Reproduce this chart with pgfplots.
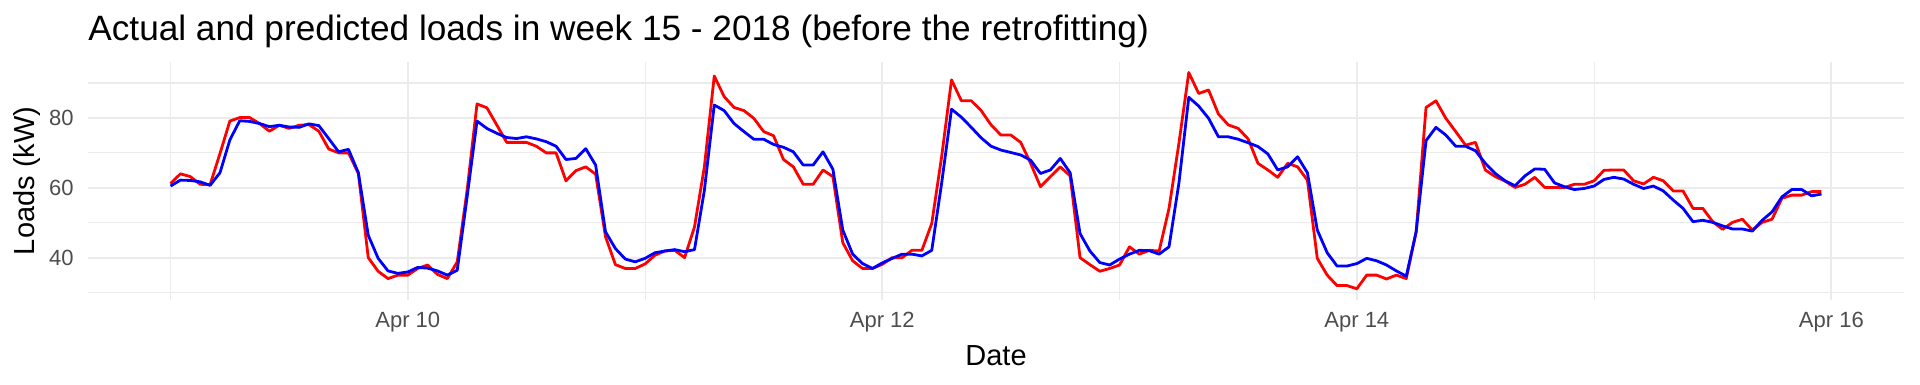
\documentclass[border=0pt]{standalone}
\usepackage{pgfplots}
\pgfplotsset{compat=1.18}
\usepackage{pgfplotstable}
\usepackage{fontspec}
\setmainfont{Liberation Sans}
\definecolor{gridgrey}{HTML}{EBEBEB}
\definecolor{tickgrey}{HTML}{4D4D4D}
\pgfplotstableread{
h act pred
0 61.2 60.5
1 64.0 62.2
2 63.2 62.1
3 61.0 61.7
4 60.9 60.7
5 69.8 64.3
6 79.1 73.7
7 80.1 79.2
8 80.1 79.0
9 78.4 78.4
10 76.2 77.5
11 77.9 77.9
12 77.0 77.4
13 77.9 77.3
14 78.1 78.3
15 76.2 77.8
16 71.1 74.1
17 70.0 70.3
18 70.0 71.0
19 64.1 64.3
20 40.0 46.4
21 36.1 39.8
22 34.0 36.2
23 35.0 35.5
24 35.0 35.9
25 36.9 37.2
26 37.9 37.0
27 35.2 36.2
28 34.0 35.0
29 38.8 36.4
30 59.3 57.4
31 84.0 79.1
32 82.9 77.0
33 78.0 75.6
34 73.0 74.4
35 73.0 74.1
36 73.0 74.6
37 71.9 74.0
38 70.0 73.2
39 70.0 71.9
40 62.0 68.1
41 64.9 68.4
42 66.0 71.2
43 63.9 66.5
44 46.0 47.4
45 38.0 42.6
46 36.9 39.6
47 36.9 38.8
48 38.2 39.8
49 40.7 41.4
50 41.9 41.9
51 42.1 42.3
52 40.0 41.7
53 48.8 42.3
54 66.0 59.3
55 92.0 83.7
56 86.1 82.1
57 83.0 78.4
58 82.1 76.1
59 79.9 73.9
60 76.1 73.9
61 74.9 72.4
62 68.1 71.6
63 66.0 70.3
64 61.0 66.5
65 61.0 66.5
66 65.1 70.3
67 63.2 65.3
68 44.3 47.9
69 39.1 41.0
70 36.9 38.3
71 36.9 36.9
72 38.1 38.5
73 40.0 39.8
74 40.0 41.0
75 42.1 41.0
76 42.1 40.5
77 49.8 42.1
78 68.9 61.3
79 90.9 82.5
80 84.9 80.2
81 84.9 77.3
82 82.1 74.3
83 78.0 71.9
84 75.1 70.8
85 75.1 70.1
86 73.0 69.4
87 67.0 67.9
88 60.3 64.1
89 63.2 65.1
90 66.0 68.4
91 63.4 64.3
92 40.0 46.9
93 38.0 41.9
94 36.1 38.6
95 36.9 37.9
96 37.9 39.6
97 43.1 41.0
98 41.0 42.1
99 42.1 42.0
100 41.9 41.0
101 54.1 43.1
102 72.7 61.3
103 93.0 85.9
104 87.0 83.4
105 88.0 79.9
106 81.1 74.6
107 78.0 74.6
108 77.0 73.9
109 74.0 72.9
110 67.0 71.8
111 65.1 69.7
112 63.0 65.1
113 67.0 66.0
114 66.0 68.9
115 62.2 64.3
116 39.8 47.9
117 35.0 41.4
118 32.0 37.6
119 32.0 37.6
120 31.1 38.3
121 35.0 39.8
122 35.0 39.1
123 33.9 37.9
124 35.0 36.2
125 34.0 34.7
126 47.4 47.4
127 83.0 73.5
128 84.9 77.3
129 79.9 75.1
130 76.1 71.9
131 72.2 71.9
132 73.0 70.6
133 65.1 67.0
134 63.2 64.1
135 61.9 62.0
136 60.1 60.6
137 61.0 63.4
138 63.0 65.4
139 60.1 65.3
140 60.1 61.4
141 60.1 60.3
142 61.0 59.5
143 61.0 59.8
144 62.0 60.5
145 65.0 62.4
146 65.1 63.0
147 65.1 62.5
148 62.0 61.0
149 61.1 59.8
150 63.0 60.5
151 62.0 59.1
152 59.1 56.5
153 59.1 54.1
154 54.1 50.3
155 54.1 50.7
156 50.3 50.1
157 48.1 49.1
158 50.1 48.2
159 51.0 48.2
160 47.9 47.6
161 50.1 50.7
162 51.0 53.1
163 57.0 57.4
164 57.9 59.5
165 57.9 59.5
166 58.9 57.7
167 58.9 58.2
}\loads
\begin{document}
\begin{tikzpicture}
\begin{axis}[
  scale only axis,
  width=908pt, height=119.2pt,
  xmin=-8.35, xmax=175.35,
  ymin=27.85, ymax=96.1,
  axis line style={draw=none},
  major tick length=0pt, minor tick length=0pt,
  xtick={24,72,120,168},
  xticklabels={Apr 10,Apr 12,Apr 14,Apr 16},
  minor xtick={0,48,96,144},
  ytick={40,60,80},
  minor ytick={30,50,70,90},
  grid=both,
  major grid style={draw=gridgrey, line width=1pt},
  minor grid style={draw=gridgrey, line width=0.55pt},
  tick label style={font=\fontsize{11}{13}\selectfont, text=tickgrey},
  xticklabel style={anchor=center, yshift=-11pt, inner sep=0pt},
  yticklabel style={anchor=east, xshift=-7pt, inner sep=0pt},
  /pgf/number format/assume math mode=true,
  xlabel={Date},
  ylabel={Loads (kW)},
  label style={font=\fontsize{14.5}{17}\selectfont, text=black},
  xlabel style={at={(axis description cs:0.5,0)}, anchor=center, yshift=-28pt},
  ylabel style={at={(axis description cs:-0.0336,0.5)}, anchor=center},
  title={Actual and predicted loads in week 15 - 2018 (before the retrofitting)},
  title style={at={(axis description cs:0,1)}, anchor=base west, yshift=4.5pt, inner sep=0pt, font=\fontsize{17.6}{20}\selectfont},
]
\addplot[color=red, line width=1.4pt, line join=round, no markers] table[x=h, y=act] {\loads};
\addplot[color=blue, line width=1.4pt, line join=round, no markers] table[x=h, y=pred] {\loads};
\end{axis}
\pgfresetboundingbox
\useasboundingbox ([xshift=-44pt,yshift=-42pt]current axis.south west) rectangle ([xshift=8pt,yshift=30.85pt]current axis.north east);
\end{tikzpicture}
\end{document}
